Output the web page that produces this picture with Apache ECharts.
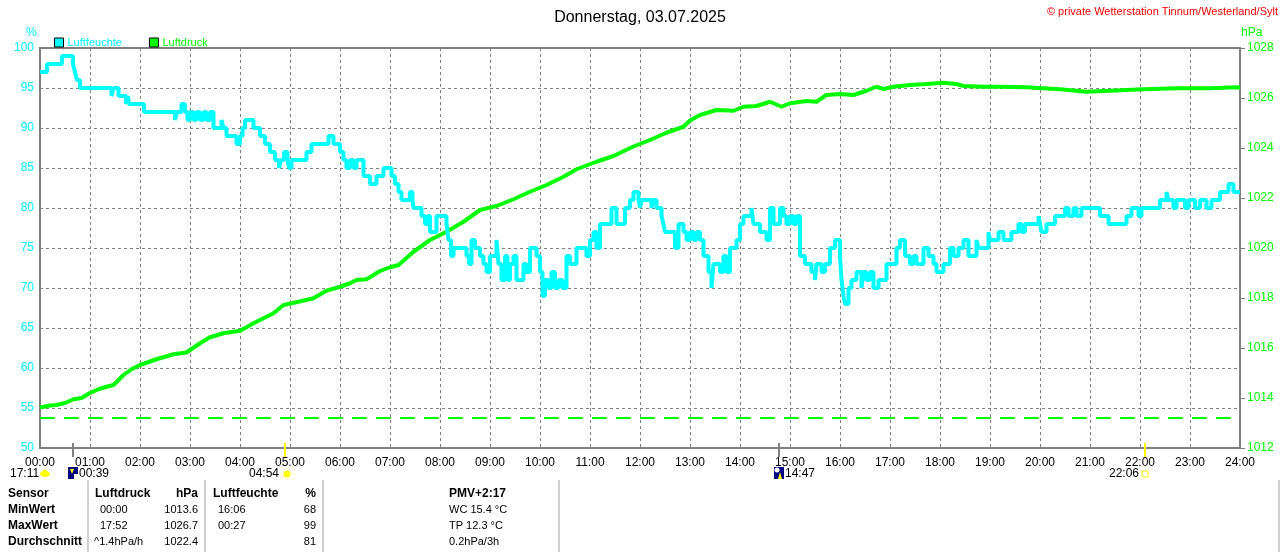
<!DOCTYPE html>
<html>
<head>
<meta charset="utf-8">
<script src="https://cdn.jsdelivr.net/npm/echarts@6/dist/echarts.min.js"></script>
<style>
html, body { margin: 0; padding: 0; background: #fff; }
#chart { width: 1280px; height: 552px; }
</style>
</head>
<body>
<div id="chart"></div>
<script>
// --- data (hours since midnight) ---
const humTime = [
  0.00, 0.14, 0.44, 0.66, 0.70, 0.74, 0.80, 1.43, 1.47, 1.57, 1.72, 1.76, 1.78, 2.08, 2.70, 2.74,
  2.83, 2.90, 2.95, 3.00, 3.07, 3.13, 3.20, 3.27, 3.33, 3.40, 3.47, 3.63, 3.67, 3.73, 3.93, 4.00,
  4.05, 4.10, 4.27, 4.40, 4.50, 4.60, 4.70, 4.78, 4.82, 4.88, 4.95, 4.98, 5.03, 5.33, 5.43, 5.77,
  5.87, 6.00, 6.07, 6.13, 6.20, 6.27, 6.33, 6.47, 6.60, 6.73, 6.87, 7.03, 7.10, 7.17, 7.23, 7.40,
  7.45, 7.47, 7.63, 7.70, 7.75, 7.80, 7.93, 8.13, 8.17, 8.22, 8.27, 8.53, 8.58, 8.63, 8.70, 8.80,
  8.87, 8.93, 9.00, 9.13, 9.17, 9.23, 9.30, 9.35, 9.40, 9.47, 9.53, 9.67, 9.73, 9.80, 9.93, 10.00,
  10.05, 10.10, 10.17, 10.23, 10.30, 10.37, 10.45, 10.53, 10.60, 10.73, 10.93, 11.00, 11.07, 11.13, 11.20, 11.43,
  11.53, 11.70, 11.80, 11.87, 11.97, 12.00, 12.03, 12.23, 12.27, 12.33, 12.43, 12.47, 12.50, 12.70, 12.77, 12.87,
  12.93, 13.00, 13.07, 13.13, 13.20, 13.27, 13.37, 13.43, 13.47, 13.60, 13.67, 13.73, 13.80, 13.93, 14.00, 14.07,
  14.23, 14.27, 14.40, 14.53, 14.60, 14.67, 14.80, 14.87, 14.93, 15.00, 15.07, 15.13, 15.20, 15.30, 15.43, 15.50,
  15.53, 15.63, 15.70, 15.80, 15.90, 16.00, 16.03, 16.07, 16.10, 16.17, 16.23, 16.33, 16.43, 16.47, 16.53, 16.60,
  16.67, 16.77, 16.93, 17.13, 17.20, 17.30, 17.40, 17.47, 17.53, 17.67, 17.77, 17.87, 17.93, 18.07, 18.20, 18.27,
  18.37, 18.47, 18.57, 18.73, 18.77, 18.97, 19.00, 19.17, 19.27, 19.43, 19.57, 19.63, 19.70, 19.97, 20.00, 20.03,
  20.13, 20.30, 20.50, 20.57, 20.67, 20.73, 20.83, 21.20, 21.37, 21.73, 21.83, 21.97, 22.03, 22.40, 22.53, 22.57,
  22.67, 22.73, 22.90, 22.97, 23.10, 23.20, 23.33, 23.43, 23.60, 23.77, 23.87, 24.00
];
const humValue = [
  97, 98, 99, 98, 97, 96, 95, 94, 95, 94, 93, 94, 93, 92, 91, 92,
  93, 92, 91, 92, 91, 92, 91, 92, 91, 92, 90, 91, 90, 89, 88, 89,
  90, 91, 90, 89, 88, 87, 86, 85, 86, 87, 86, 85, 86, 87, 88, 89,
  88, 87, 86, 85, 86, 85, 86, 84, 83, 84, 85, 84, 83, 82, 81, 82,
  81, 80, 79, 78, 79, 77, 79, 78, 76, 74, 75, 74, 73, 76, 75, 74,
  73, 72, 74, 76, 73, 71, 74, 71, 73, 74, 71, 73, 72, 75, 74, 72,
  69, 71, 70, 72, 70, 71, 70, 74, 73, 75, 74, 76, 77, 75, 78, 80,
  78, 80, 81, 82, 81, 80, 81, 80, 81, 80, 79, 78, 77, 75, 78, 77,
  76, 77, 76, 77, 76, 74, 72, 70, 73, 72, 74, 72, 75, 76, 78, 79,
  80, 78, 77, 76, 80, 78, 80, 79, 78, 79, 78, 79, 74, 73, 72, 71,
  73, 72, 73, 75, 76, 74, 71, 69, 68, 70, 71, 72, 70, 72, 71, 72,
  70, 71, 73, 75, 76, 74, 73, 74, 73, 75, 74, 73, 72, 73, 75, 74,
  75, 76, 74, 76, 75, 77, 76, 77, 76, 77, 78, 77, 78, 79, 78, 77,
  78, 79, 80, 79, 80, 79, 80, 79, 78, 79, 80, 79, 80, 81, 82, 81,
  80, 81, 80, 81, 80, 81, 80, 81, 82, 83, 82, 82
];

const presTime = [
  0.00, 0.20, 0.33, 0.50, 0.67, 0.83, 1.00, 1.17, 1.33, 1.47, 1.67, 1.83, 2.00, 2.33, 2.67, 2.93,
  3.00, 3.20, 3.40, 3.67, 4.00, 4.33, 4.67, 4.87, 5.17, 5.47, 5.73, 6.00, 6.20, 6.33, 6.53, 6.80,
  7.00, 7.17, 7.33, 7.47, 7.80, 8.13, 8.47, 8.80, 9.13, 9.47, 9.80, 10.13, 10.47, 10.73, 11.13, 11.47,
  11.87, 12.20, 12.53, 12.87, 13.00, 13.20, 13.53, 13.87, 14.07, 14.33, 14.60, 14.83, 15.00, 15.33, 15.53, 15.73,
  16.00, 16.27, 16.53, 16.73, 16.87, 17.07, 17.40, 17.73, 18.07, 18.33, 18.47, 18.87, 19.20, 19.73, 20.40, 20.93,
  21.40, 22.07, 22.73, 23.40, 23.93, 24.00
];
const presValue = [
  1013.62, 1013.70, 1013.72, 1013.80, 1013.95, 1014.00, 1014.20, 1014.35, 1014.45, 1014.52, 1014.92, 1015.15, 1015.32, 1015.55, 1015.75, 1015.82,
  1015.92, 1016.19, 1016.43, 1016.59, 1016.69, 1017.05, 1017.39, 1017.72, 1017.85, 1017.99, 1018.29, 1018.45, 1018.59, 1018.72, 1018.75, 1019.08,
  1019.23, 1019.32, 1019.60, 1019.85, 1020.32, 1020.65, 1021.05, 1021.52, 1021.68, 1021.95, 1022.25, 1022.52, 1022.85, 1023.15, 1023.45, 1023.68,
  1024.06, 1024.32, 1024.61, 1024.85, 1025.10, 1025.32, 1025.52, 1025.49, 1025.65, 1025.68, 1025.85, 1025.65, 1025.79, 1025.88, 1025.85, 1026.12,
  1026.16, 1026.12, 1026.29, 1026.45, 1026.36, 1026.45, 1026.52, 1026.56, 1026.61, 1026.56, 1026.48, 1026.45, 1026.45, 1026.43, 1026.35, 1026.25,
  1026.29, 1026.35, 1026.39, 1026.39, 1026.43, 1026.42
];
const presLimit = 1013.2;

// sun / moon events below the time axis
const eventTime = [0.65, 4.9, 14.783, 22.1];
const eventLabel = ['00:39', '04:54', '14:47', '22:06'];
const prevEventLabel = '17:11';

// statistics table
const statHeader = ['Sensor', 'Luftdruck', 'hPa', 'Luftfeuchte', '%'];
const statMin = ['MinWert', '00:00', '1013.6', '16:06', '68'];
const statMax = ['MaxWert', '17:52', '1026.7', '00:27', '99'];
const statAvg = ['Durchschnitt', '^1.4hPa/h', '1022.4', '', '81'];
const extraInfo = ['PMV+2:17', 'WC 15.4 °C', 'TP 12.3 °C', '0.2hPa/3h'];

// --- styling ---
const FONT = 'Liberation Sans, Arial, sans-serif';
const NARROW = '"Liberation Sans Narrow", "Arial Narrow", Liberation Sans, Arial, sans-serif';
const CYAN = '#00ffff';
const GREEN = '#00ff00';
const GRAY = '#808080';
const pad2 = v => (v < 10 ? '0' : '') + v;

const chart = echarts.init(document.getElementById('chart'), null, { renderer: 'canvas' });

const option = {
  animation: false,
  backgroundColor: '#fff',
  title: {
    text: 'Donnerstag, 03.07.2025',
    left: 'center',
    top: 5,
    textStyle: { fontFamily: FONT, fontSize: 16, fontWeight: 'normal', color: '#000' },
  },
  legend: {
    data: [
      { name: 'Luftfeuchte', textStyle: { color: CYAN } },
      { name: 'Luftdruck', textStyle: { color: GREEN } },
    ],
    left: 49,
    top: 32,
    icon: 'rect',
    itemWidth: 9,
    itemHeight: 9,
    itemGap: 27,
    selectedMode: false,
    itemStyle: { borderColor: '#000', borderWidth: 1 },
    textStyle: { fontFamily: FONT, fontSize: 11, padding: [0, 0, 0, -1] },
  },
  grid: {
    left: 40, right: 40, top: 48, bottom: 104,
    show: true, borderColor: GRAY, borderWidth: 2,
  },
  xAxis: {
    type: 'value',
    min: 0, max: 24, interval: 1,
    axisLine: { show: false },
    axisTick: { show: false },
    axisLabel: {
      color: '#000', fontFamily: NARROW, fontSize: 12, margin: 9,
      showMaxLabel: true, showMinLabel: true,
      formatter: v => pad2(v) + ':00',
    },
    splitLine: { show: true, lineStyle: { color: GRAY, type: [3, 3], width: 1 } },
  },
  yAxis: [
    {
      type: 'value',
      min: 50, max: 100, interval: 5,
      axisLine: { show: false },
      axisTick: { show: false },
      axisLabel: { color: CYAN, fontFamily: NARROW, fontSize: 12, margin: 6 },
      splitLine: { show: true, lineStyle: { color: GRAY, type: [3, 3], width: 1 } },
    },
    {
      type: 'value',
      min: 1012, max: 1028, interval: 2,
      axisLine: { show: false },
      axisTick: { show: true, length: 5, lineStyle: { color: GRAY } },
      axisLabel: { color: GREEN, fontFamily: NARROW, fontSize: 12, margin: 7, formatter: v => String(v) },
      splitLine: { show: false },
    },
  ],
  series: [
    {
      name: 'Luftdruck',
      type: 'line',
      yAxisIndex: 1,
      data: presTime.map((t, i) => [t, presValue[i]]),
      symbol: 'none',
      color: GREEN,
      lineStyle: { color: GREEN, width: 4 },
      markLine: {
        silent: true,
        symbol: 'none',
        label: { show: false },
        lineStyle: { color: GREEN, type: [15, 9], width: 2 },
        data: [{ yAxis: presLimit }],
      },
      z: 2,
    },
    {
      name: 'Luftfeuchte',
      type: 'line',
      step: 'end',
      data: humTime.map((t, i) => [t, humValue[i]]),
      symbol: 'none',
      color: CYAN,
      lineStyle: { color: CYAN, width: 4 },
      z: 3,
    },
  ],
};

chart.setOption(option);

// --- extra texts, event markers and the stats table ---
const g = [];
const txt = (x, y, text, style) => g.push({
  type: 'text', x, y, silent: true,
  style: Object.assign({ text, fontFamily: FONT, fontSize: 11, fill: '#000', textVerticalAlign: 'middle' }, style),
});

txt(1278, 12, '© private Wetterstation Tinnum/Westerland/Sylt', { fill: '#ff0000', textAlign: 'right' });
txt(26, 33, '%', { fill: CYAN, fontFamily: NARROW, fontSize: 12 });
txt(1241, 33, 'hPa', { fill: GREEN, fontFamily: NARROW, fontSize: 12 });

const axisY = chart.convertToPixel({ yAxisIndex: 0 }, 50);
const markerColor = ['#808080', '#ffff00', '#808080', '#ffff00'];
const iconFirst = [true, false, true, false];

// previous-day event at the left edge
txt(10, 474, prevEventLabel, { fontFamily: NARROW, fontSize: 12 });
g.push({ type: 'ellipse', silent: true, shape: { cx: 45, cy: 474, rx: 5, ry: 3 }, style: { fill: '#ffff00' } });
g.push({ type: 'circle', silent: true, shape: { cx: 45, cy: 472, r: 2.5 }, style: { fill: '#ffff00' } });

eventTime.forEach((t, i) => {
  const x = Math.round(chart.convertToPixel({ xAxisIndex: 0 }, t));
  g.push({
    type: 'line', silent: true,
    shape: { x1: x, y1: axisY - 5, x2: x, y2: axisY + 9 },
    style: { stroke: markerColor[i], lineWidth: 2 },
  });
  if (iconFirst[i]) {
    g.push({ type: 'rect', silent: true, shape: { x: x - 5, y: 467, width: 10, height: 12 }, style: { fill: '#000080' } });
    if (i === 0) {
      g.push({ type: 'polygon', silent: true, shape: { points: [[x - 3, 469], [x + 1, 469], [x - 1, 474]] }, style: { fill: '#ffff00' } });
      g.push({ type: 'rect', silent: true, shape: { x: x + 1, y: 474, width: 4, height: 5 }, style: { fill: '#ffffff' } });
    } else {
      g.push({ type: 'circle', silent: true, shape: { cx: x - 2, cy: 470, r: 2.5 }, style: { fill: '#ffffff' } });
      g.push({ type: 'polygon', silent: true, shape: { points: [[x - 1, 479], [x + 3, 479], [x + 1, 472]] }, style: { fill: '#ffff00' } });
    }
    txt(x + 6, 474, eventLabel[i], { fontFamily: NARROW, fontSize: 12 });
  } else {
    txt(x - 6, 474, eventLabel[i], { fontFamily: NARROW, fontSize: 12, textAlign: 'right' });
    if (i === 1) {
      g.push({ type: 'circle', silent: true, shape: { cx: x + 2, cy: 474, r: 3.5 }, style: { fill: '#ffff00' } });
      g.push({ type: 'circle', silent: true, shape: { cx: x + 2, cy: 474, r: 5.5 }, style: { fill: 'none', stroke: '#ffff80', lineWidth: 1, lineDash: [1, 1.5] } });
    } else {
      g.push({ type: 'rect', silent: true, shape: { x: x - 3, y: 471, width: 6, height: 6 }, style: { fill: 'none', stroke: '#ffff00', lineWidth: 1 } });
    }
  }
});

// table
const rowY = [494, 510, 526, 542];
const rows = [statHeader, statMin, statMax, statAvg];
const colX = [8, 100, 198, 218, 316];
rows.forEach((row, r) => {
  const head = r === 0;
  row.forEach((cell, c) => {
    if (!cell) return;
    let x = colX[c];
    if (head && c === 1) x = 95;
    if (head && c === 3) x = 213;
    if (r === 3 && c === 1) x = 94;
    const bold = head || c === 0;
    txt(x, rowY[r], cell, {
      textAlign: (c === 2 || c === 4) ? 'right' : 'left',
      fontWeight: bold ? 'bold' : 'normal',
      fontSize: bold ? 12 : 11,
    });
  });
});
extraInfo.forEach((s, r) => {
  txt(449, rowY[r], s, { fontWeight: r === 0 ? 'bold' : 'normal', fontSize: r === 0 ? 12 : 11 });
});
[88, 205, 323, 559, 1279].forEach(x => {
  g.push({ type: 'line', silent: true, shape: { x1: x, y1: 480, x2: x, y2: 552 }, style: { stroke: '#a0a0a0', lineWidth: 1 } });
});

chart.setOption({ graphic: g });
</script>
</body>
</html>
